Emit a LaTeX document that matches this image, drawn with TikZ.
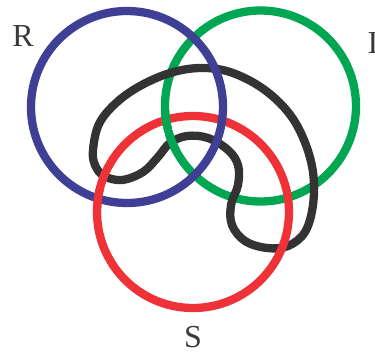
\documentclass[tikz,border=0pt]{standalone}
\usepackage{fontspec}
\setmainfont{Liberation Serif}
\definecolor{ringblue}{HTML}{3F3F95}
\definecolor{ringgreen}{HTML}{00A651}
\definecolor{ringred}{HTML}{EE3238}
\definecolor{ringblack}{HTML}{333333}
\definecolor{labelgrey}{HTML}{3A3A3A}
\begin{document}
\begin{tikzpicture}[x=1pt,y=-1pt,
  ring/.style={line width=8.3pt},
  lbl/.style={font=\fontsize{32}{36}\selectfont, text=labelgrey, inner sep=0pt}]
\useasboundingbox (0,0) rectangle (375,356);
% green ring (I)
\draw[ring, ringgreen] (260.5,106) circle (95.5pt);
% black ring
\draw[ring, ringblack] plot[smooth cycle, tension=0.6] coordinates {
  (93,150) (99,124) (116,103) (140,86) (170,73) (200,68) (230,72) (262,88)
  (288,112) (304,140) (313,172) (313,205) (305,232) (288,246) (267,248)
  (245,241) (232,225) (231,205) (238,185) (238,165) (228,150) (208,138)
  (187,136) (170,143) (158,157) (143,172) (122,180) (104,176) (95,165)};
% green over black
\begin{scope}
  \clip (172,142) circle (10pt);
  \draw[ring, ringgreen] (260.5,106) circle (95.5pt);
\end{scope}
% red ring (S)
\draw[ring, ringred] (193,212) circle (96pt);
% green over red (left)
\begin{scope}
  \clip (166,120) circle (10pt);
  \draw[ring, ringgreen] (260.5,106) circle (95.5pt);
\end{scope}
% blue ring (R)
\draw[ring, ringblue] (127,107) circle (96pt);
% red over blue (left)
\begin{scope}
  \clip (98,198.5) circle (10pt);
  \draw[ring, ringred] (193,212) circle (96pt);
\end{scope}
% labels
\node[lbl] (R) at (23,36) {R};
\node[lbl, anchor=west] (I) at (367.4,43.5) {I};
\node[lbl] (S) at (193,337.5) {S};
\end{tikzpicture}
\end{document}
